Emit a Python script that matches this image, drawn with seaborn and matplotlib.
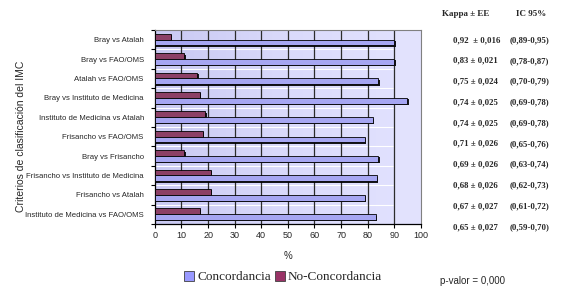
import numpy as np
import pandas as pd
import matplotlib
matplotlib.use("Agg")
import matplotlib.pyplot as plt
import seaborn as sns
from matplotlib import patheffects as pe
from matplotlib.colors import LinearSegmentedColormap
from matplotlib.patches import Patch

categories = [
    "Bray vs Atalah",
    "Bray vs FAO/OMS",
    "Atalah vs FAO/OMS",
    "Bray vs Instituto de Medicina",
    "Instituto de Medicina vs Atalah",
    "Frisancho vs FAO/OMS",
    "Bray vs Frisancho",
    "Frisancho vs Instituto de Medicina",
    "Frisancho vs Atalah",
    "Instituto de Medicina vs FAO/OMS",
]
concordancia = [90, 90, 84, 95, 82, 79, 84, 83.5, 79, 83]
no_concordancia = [6, 11, 16, 17, 19, 18, 11, 21, 21, 17]
kappa = ["0,92  ± 0,016", "0,83 ± 0,021", "0,75 ± 0,024", "0,74 ± 0,025",
         "0,74 ± 0,025", "0,71 ± 0,026", "0,69 ± 0,026", "0,68 ± 0,026",
         "0,67 ± 0,027", "0,65 ± 0,027"]
ic = ["(0,89-0,95)", "(0,78-0,87)", "(0,70-0,79)", "(0,69-0,78)", "(0,69-0,78)",
      "(0,65-0,76)", "(0,63-0,74)", "(0,62-0,73)", "(0,61-0,72)", "(0,59-0,70)"]
x_ticks = list(range(0, 101, 10))
series = ["No-Concordancia", "Concordancia"]
colors = {"No-Concordancia": "#993366", "Concordancia": "#9999FF"}

sns.set_theme(style="white")
plt.rcParams["font.family"] = ["Liberation Sans", "DejaVu Sans"]

n = len(categories)
df = pd.DataFrame({
    "Criterio": categories * 2,
    "Valor": no_concordancia + concordancia,
    "Serie": [series[0]] * n + [series[1]] * n,
})

fig = plt.figure(figsize=(5.78, 2.99), dpi=100)
ax = fig.add_axes([0.268, 0.251, 0.46, 0.649])

sns.barplot(data=df, y="Criterio", x="Valor", hue="Serie", hue_order=series,
            palette=colors, orient="h", width=0.6, dodge=True,
            edgecolor="black", linewidth=0.6, ax=ax, legend=False, zorder=3,
            errorbar=None)
for p in ax.patches:
    p.set_path_effects([pe.SimplePatchShadow(offset=(1.0, -1.0), shadow_rgbFace="black", alpha=0.9),
                        pe.Normal()])

ymin, ymax = -0.5, n - 0.5
cmap = LinearSegmentedColormap.from_list("bg", ["#C9C9F2", "#DADAFB", "#E3E3FF"])
grad = np.linspace(0, 1, 256).reshape(1, -1)
ax.imshow(grad, extent=[x_ticks[0], x_ticks[-1], ymax, ymin], aspect="auto", cmap=cmap, zorder=0)
for yb in np.arange(ymin + 1, ymax, 1):
    ax.axhline(yb, color="white", lw=0.8, zorder=0.5)
ax.axvspan(x_ticks[-2], x_ticks[-1], color="#E2E2FD", zorder=0.6)
for xt in x_ticks[1:-1]:
    ax.axvline(xt, color="#2c2c2c", lw=0.9, zorder=1)

ax.set_xlim(x_ticks[0], x_ticks[-1])
ax.set_ylim(ymax, ymin)
ax.set_xticks(x_ticks)
ax.set_xticklabels([str(t) for t in x_ticks], fontsize=6.5)
ax.set_yticks(range(n))
ax.set_yticklabels(categories, fontsize=5.6)
ax.set_yticks(np.arange(ymin, ymax + 0.01, 1), minor=True)
ax.tick_params(axis="x", bottom=True, length=3, width=0.8, pad=2, color="black")
ax.tick_params(axis="y", which="major", left=False, length=0, pad=8)
ax.tick_params(axis="y", which="minor", left=True, length=3, width=0.8, color="black")
ax.set_xlabel("%", fontsize=7, labelpad=8)
ax.set_ylabel("")
for s in ["left", "bottom"]:
    ax.spines[s].set_color("black")
    ax.spines[s].set_linewidth(0.9)
for s in ["top", "right"]:
    ax.spines[s].set_color("#808080")
    ax.spines[s].set_linewidth(0.8)

fig.text(0.036, 0.545, "Criterios de clasificación del IMC", rotation=90,
         ha="center", va="center", fontsize=7.5)

serif = ["Liberation Serif", "DejaVu Serif"]
fig.text(442 / 578, 1 - 14 / 299, "Kappa ± EE", fontsize=6.5, fontweight="bold",
         family=serif, ha="left", va="center")
fig.text(516 / 578, 1 - 14 / 299, "IC 95%", fontsize=6.5, fontweight="bold",
         family=serif, ha="left", va="center")
ys = np.linspace(40, 227, n)
for yv, k, c in zip(ys, kappa, ic):
    fig.text(453 / 578, 1 - yv / 299, k, fontsize=6.3, fontweight="bold",
             family=serif, ha="left", va="center")
    fig.text(510 / 578, 1 - yv / 299, c, fontsize=6.3, fontweight="bold",
             family=serif, ha="left", va="center")

handles = [Patch(facecolor=colors[s], edgecolor="#404040", lw=0.6) for s in series[::-1]]
fig.legend(handles, series[::-1], loc="center", bbox_to_anchor=(283 / 578, 1 - 277 / 299),
           ncol=2, frameon=False, handlelength=0.8, handleheight=0.8,
           handletextpad=0.2, columnspacing=0.3,
           prop={"family": serif, "size": 9.5})

fig.text(440 / 578, 1 - 281 / 299, "p-valor = 0,000", fontsize=7,
         ha="left", va="center")

fig.savefig("out.png", dpi=100)
